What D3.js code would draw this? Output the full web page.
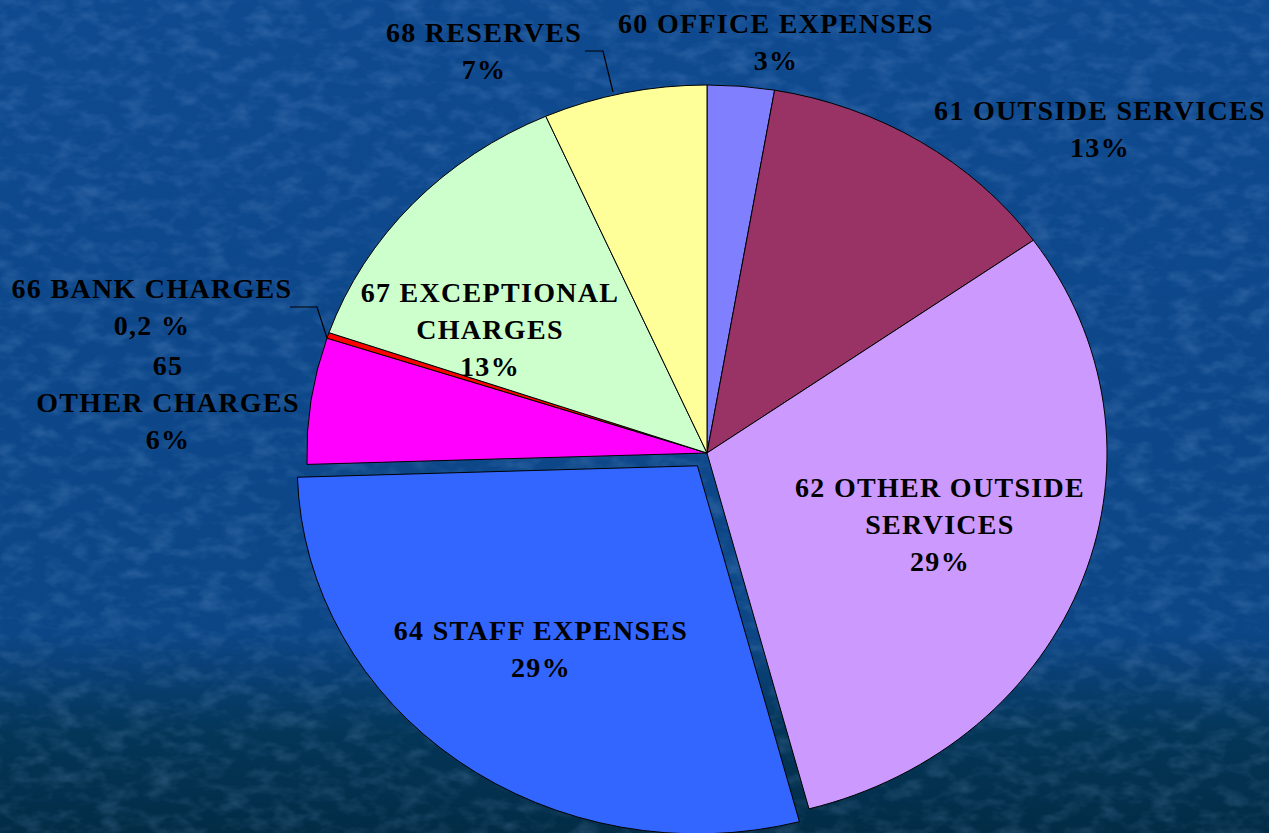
<!DOCTYPE html>
<html><head><meta charset="utf-8">
<script src="https://cdn.jsdelivr.net/npm/d3@7"></script>
<style>html,body{margin:0;padding:0;background:#0d4a90;overflow:hidden}</style>
</head><body>
<svg id="chart" width="1269" height="833"></svg>
<script>
const categories = ["60 OFFICE EXPENSES","61 OUTSIDE SERVICES","62 OTHER OUTSIDE SERVICES","64 STAFF EXPENSES","65 OTHER CHARGES","66 BANK CHARGES","67 EXCEPTIONAL CHARGES","68 RESERVES"];
const values = [2.7, 12.5, 30.7, 28.6, 5.55, 0.25, 13.1, 6.6];
const colors = ["#8080ff","#993366","#cc99ff","#3366ff","#ff00ff","#ff0000","#ccffcc","#ffff99"];
const labelLines = [
  ["60 OFFICE EXPENSES","3%"],
  ["61 OUTSIDE SERVICES","13%"],
  ["62 OTHER OUTSIDE","SERVICES","29%"],
  ["64 STAFF EXPENSES","29%"],
  ["65","OTHER CHARGES","6%"],
  ["66 BANK CHARGES","0,2 %"],
  ["67 EXCEPTIONAL","CHARGES","13%"],
  ["68 RESERVES","7%"]
];
const exploded = [false,false,false,true,false,false,false,false];

const W = 1269, H = 833;
const svg = d3.select("#chart");
const defs = svg.append("defs");
const grad = defs.append("linearGradient").attr("id","bg").attr("x1",0).attr("y1",0).attr("x2",0).attr("y2",1);
grad.append("stop").attr("offset","0%").attr("stop-color","#0f4a90");
grad.append("stop").attr("offset","76%").attr("stop-color","#0c4686");
grad.append("stop").attr("offset","88%").attr("stop-color","#043658");
grad.append("stop").attr("offset","100%").attr("stop-color","#022c46");
svg.append("rect").attr("width",W).attr("height",H).attr("fill","url(#bg)");
const f = defs.append("filter").attr("id","tex").attr("x",0).attr("y",0).attr("width","100%").attr("height","100%");
f.append("feTurbulence").attr("type","fractalNoise").attr("baseFrequency","0.04 0.07").attr("numOctaves",3).attr("seed",7).attr("result","n");
f.append("feColorMatrix").attr("in","n").attr("type","matrix")
  .attr("values","0 0 0 0 0.3  0 0 0 0 0.5  0 0 0 0 0.85  1.4 0 0 0 -0.6");
svg.append("rect").attr("width",W).attr("height",H).attr("filter","url(#tex)").attr("opacity",0.3);

const cx = 707, cy = 453, rx = 400, ry = 368, explode = 16;
const pie = d3.pie().sort(null).value(d => d)(values);
const arc = d3.arc().innerRadius(0).outerRadius(1);
const g = svg.append("g");
pie.forEach((d,i) => {
  const mid = (d.startAngle + d.endAngle)/2;
  const ox = exploded[i] ? explode*Math.sin(mid) : 0;
  const oy = exploded[i] ? -explode*Math.cos(mid) : 0;
  g.append("g").attr("transform",`translate(${cx+ox},${cy+oy}) scale(${rx},${ry})`)
   .append("path").attr("d",arc(d)).attr("fill",colors[i])
   .attr("stroke","#000").attr("stroke-width",1).attr("vector-effect","non-scaling-stroke");
});

// labels
const labelPos = [
  [776, 33], [1100, 120], [940, 497], [541, 640], [168, 375], [152, 298], [490, 302], [484, 42]
];
const lh = 37;
labelLines.forEach((lines,i) => {
  const t = svg.append("text").attr("x",labelPos[i][0]).attr("y",labelPos[i][1])
    .attr("text-anchor","middle").attr("font-family","'Liberation Serif','Times New Roman',serif")
    .attr("font-weight","bold").attr("font-size",28).attr("letter-spacing","1.3px").attr("fill","#000");
  lines.forEach((l,j) => t.append("tspan").attr("x",labelPos[i][0]).attr("dy", j===0?0:lh).text(l));
});
// leader lines
const leaders = [
  [[585,51],[603,51],[613,92]],
  [[290,307],[317,307],[327,338]]
];
leaders.forEach(p => svg.append("path").attr("d",d3.line()(p)).attr("fill","none").attr("stroke","#000").attr("stroke-width",1.2));
</script>
</body></html>
